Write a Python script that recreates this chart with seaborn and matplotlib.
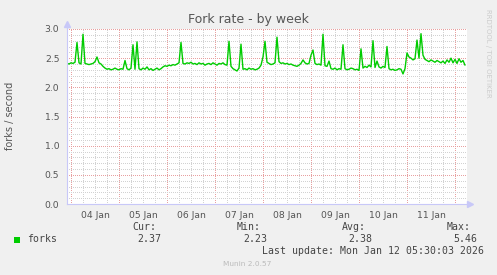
import numpy as np
import pandas as pd
import matplotlib
matplotlib.use("Agg")
import matplotlib.pyplot as plt
import matplotlib.dates as mdates
from matplotlib.ticker import MultipleLocator, FixedLocator, FuncFormatter
from matplotlib.patches import Rectangle
import seaborn as sns

# ---- data (hourly fork rate, forks/second) ----
start_time = "2026-01-03 22:00"
fork_rate = [
    2.41, 2.40, 2.42, 2.41, 2.43, 2.77, 2.42, 2.40, 2.91, 2.41,
    2.40, 2.39, 2.40, 2.41, 2.44, 2.52, 2.42, 2.40, 2.36, 2.33,
    2.31, 2.32, 2.30, 2.31, 2.33, 2.31, 2.30, 2.32, 2.31, 2.46,
    2.32, 2.30, 2.33, 2.73, 2.31, 2.78, 2.32, 2.30, 2.33, 2.31,
    2.35, 2.30, 2.32, 2.29, 2.31, 2.33, 2.30, 2.32, 2.35, 2.37,
    2.36, 2.38, 2.37, 2.39, 2.38, 2.40, 2.42, 2.77, 2.41, 2.40,
    2.42, 2.41, 2.43, 2.40, 2.41, 2.39, 2.42, 2.40, 2.41, 2.38,
    2.40, 2.41, 2.39, 2.42, 2.40, 2.38, 2.41, 2.40, 2.42, 2.39,
    2.38, 2.79, 2.36, 2.32, 2.30, 2.28, 2.33, 2.74, 2.31, 2.32,
    2.30, 2.33, 2.31, 2.32, 2.30, 2.31, 2.33, 2.38, 2.52, 2.79,
    2.43, 2.41, 2.39, 2.40, 2.42, 2.86, 2.44, 2.41, 2.42, 2.40,
    2.41, 2.39, 2.40, 2.38, 2.37, 2.36, 2.38, 2.41, 2.47, 2.42,
    2.40, 2.41, 2.55, 2.64, 2.41, 2.39, 2.40, 2.38, 2.91, 2.37,
    2.36, 2.45, 2.32, 2.31, 2.33, 2.30, 2.32, 2.31, 2.73, 2.32,
    2.30, 2.31, 2.33, 2.32, 2.30, 2.31, 2.29, 2.66, 2.33, 2.36,
    2.34, 2.38, 2.35, 2.80, 2.34, 2.45, 2.35, 2.33, 2.36, 2.34,
    2.70, 2.32, 2.30, 2.31, 2.29, 2.30, 2.32, 2.31, 2.23, 2.32,
    2.59, 2.52, 2.50, 2.47, 2.49, 2.81, 2.50, 2.92, 2.55, 2.48,
    2.46, 2.44, 2.47, 2.45, 2.43, 2.46, 2.44, 2.42, 2.45, 2.41,
    2.47, 2.43, 2.50, 2.42, 2.48, 2.41, 2.49, 2.43, 2.46, 2.38,
]
times = pd.date_range(start_time, periods=len(fork_rate), freq="h")
df = pd.DataFrame({"time": times, "forks": fork_rate})

title = "Fork rate - by week"
ylabel = "forks / second"
legend_name = "forks"
stat_names = ["Cur:", "Min:", "Avg:", "Max:"]
stat_values = ["2.37", "2.23", "2.38", "5.46"]
last_update = "Last update: Mon Jan 12 05:30:03 2026"
munin_ver = "Munin 2.0.57"
side_text = "RRDTOOL / TOBI OETIKER"

# ---- style ----
W, H = 497, 275
sns.set_style("white")
plt.rcParams["font.family"] = ["DejaVu Sans"]
fig = plt.figure(figsize=(W / 100, H / 100), dpi=100, facecolor="#F0F0F0")

def fx(px):
    return px / W

def fy(py):
    return 1 - py / H

ax = fig.add_axes([fx(67), fy(204), 400 / W, 175 / H])
ax.set_facecolor("white")

sns.lineplot(data=df, x="time", y="forks", ax=ax, color="#00CC00",
             linewidth=1.0, legend=False)

ax.set_ylim(0, 3.0)
ax.set_xlim(pd.Timestamp("2026-01-03 22:00"), pd.Timestamp("2026-01-12 06:00"))

# y grid
ax.yaxis.set_major_locator(MultipleLocator(0.5))
ax.yaxis.set_minor_locator(FixedLocator([i / 10 for i in range(31) if i % 5]))
ax.yaxis.set_major_formatter(FuncFormatter(lambda v, p: f"{v:.1f}"))

# x grid: major at midnight, minor every 6h, labels at noon
ax.xaxis.set_major_locator(mdates.DayLocator())
ax.xaxis.set_major_formatter(FuncFormatter(lambda v, p: ""))
ax.xaxis.set_minor_locator(mdates.HourLocator(byhour=[0, 6, 12, 18]))

def minor_fmt(v, p):
    d = mdates.num2date(v)
    return d.strftime("%d %b") if d.hour == 12 else ""

ax.xaxis.set_minor_formatter(FuncFormatter(minor_fmt))

ax.grid(which="major", color="#E8A0A0", linestyle=(0, (1, 1.5)),
        linewidth=0.72, antialiased=False)
ax.grid(which="minor", color="#D2D2D2", linestyle=(0, (1, 1.5)),
        linewidth=0.72, antialiased=False)
ax.set_axisbelow(True)

ax.tick_params(axis="both", which="both", labelsize=6.7, labelcolor="#555555",
               direction="out")
ax.tick_params(axis="x", which="major", length=2, color="#E8A0A0", pad=2)
ax.tick_params(axis="x", which="minor", length=2, color="#D2D2D2", pad=3)
ax.tick_params(axis="y", which="major", length=2, color="#E8A0A0", pad=3.5)
ax.tick_params(axis="y", which="minor", length=0)

for s in ["top", "right"]:
    ax.spines[s].set_visible(False)
for s in ["left", "bottom"]:
    ax.spines[s].set_color("#C8C8F8")
    ax.spines[s].set_linewidth(0.8)

# axis arrows
ax.plot([0, 0], [1.0, 1.03], transform=ax.transAxes, color="#C8C8F8",
        lw=0.8, clip_on=False)
ax.plot([0], [1.03], marker="^", markersize=4, color="#C8C8F8",
        transform=ax.transAxes, clip_on=False)
ax.plot([1.0, 1.008], [0, 0], transform=ax.transAxes, color="#C8C8F8",
        lw=0.8, clip_on=False)
ax.plot([1.008], [0], marker=">", markersize=4, color="#C8C8F8",
        transform=ax.transAxes, clip_on=False)

ax.set_xlabel("")
ax.set_ylabel("")

# ---- texts ----
fig.text(fx(248), fy(20), title, ha="center", va="center", fontsize=9,
         color="#555555")
fig.text(fx(10), fy(116), ylabel, ha="center", va="center", rotation=90,
         fontsize=7, color="#555555")
fig.text(fx(488), fy(53), side_text, ha="center", va="center", rotation=270,
         fontsize=5, color="#CCCCCC")

mono = "DejaVu Sans Mono"
stat_x = [132, 237, 342, 447]
val_x = [137, 243, 348, 453]
for nm, x in zip(stat_names, stat_x):
    fig.text(fx(x), fy(227.5), nm, ha="left", va="center", fontsize=7.1,
             family=mono, color="#444444")
for v, x in zip(stat_values, val_x):
    fig.text(fx(x), fy(239.5), v, ha="left", va="center", fontsize=7.1,
             family=mono, color="#444444")
fig.text(fx(27), fy(239.5), legend_name, ha="left", va="center",
         fontsize=7.1, family=mono, color="#444444")
fig.patches.append(Rectangle((fx(14), fy(243)), 6 / W, 6 / H,
                             transform=fig.transFigure, facecolor="#00CC00",
                             edgecolor="none"))
fig.text(fx(262), fy(251.5), last_update, ha="left", va="center",
         fontsize=7.1, family=mono, color="#444444")
fig.text(fx(247.5), fy(263.5), munin_ver, ha="center", va="center",
         fontsize=5.3, color="#BBBBBB")

fig.savefig("out.png", dpi=100, facecolor=fig.get_facecolor())
